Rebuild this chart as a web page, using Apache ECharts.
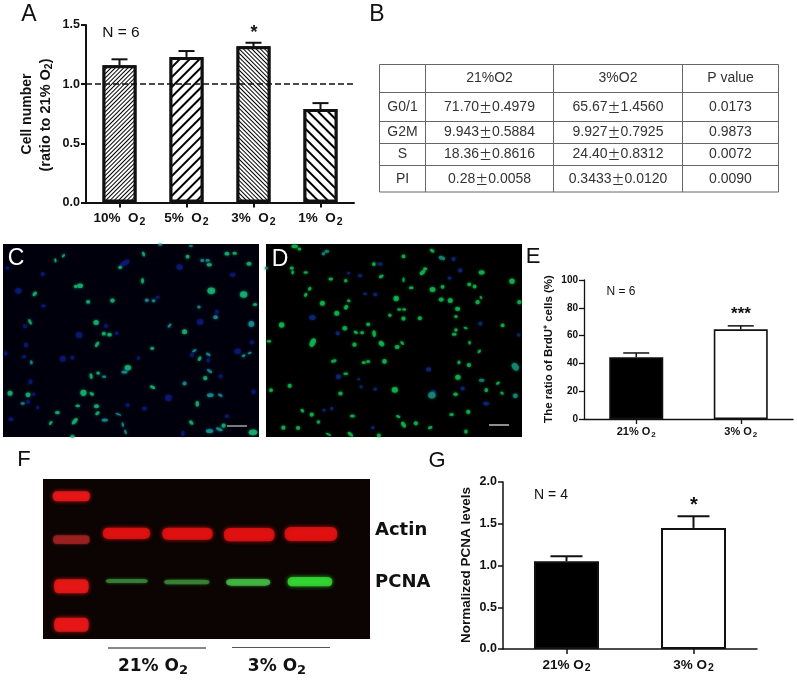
<!DOCTYPE html>
<html>
<head>
<meta charset="utf-8">
<title>O2 panels</title>
<script src="https://cdn.jsdelivr.net/npm/echarts@6/dist/echarts.min.js"></script>
<style>
  html, body { margin: 0; padding: 0; background: #fff; }
  #main { width: 797px; height: 680px; }
</style>
</head>
<body>
<div id="main"></div>
<script>
// panel A
var aCategories = ['10%  O2', '5%  O2', '3%  O2', '1%  O2'];
var aMeans = [1.16, 1.23, 1.32, 0.79];
var aTops = [1.21, 1.28, 1.35, 0.84];
var aTicks = [0, 0.5, 1.0, 1.5];

// panel B table
var tableHead = ['', '21%O2', '3%O2', 'P value'];
var tablePhases = ['G0/1', 'G2M', 'S', 'PI'];
var table21 = ['71.70±0.4979', '9.943±0.5884', '18.36±0.8616', '0.28±0.0058'];
var table3 = ['65.67±1.4560', '9.927±0.7925', '24.40±0.8312', '0.3433±0.0120'];
var tableP = ['0.0173', '0.9873', '0.0072', '0.0090'];

// panel E
var eCategories = ['21% O2', '3% O2'];
var eMeans = [44.5, 64.5];
var eTops = [47.5, 67];

// panel G
var gCategories = ['21% O2', '3% O2'];
var gMeans = [1.05, 1.45];
var gTops = [1.11, 1.59];

// micrograph nuclei: x, y, w, h, rotation (3x crop units)
var cGreen = [[166,77,9,4,80],[190,63,9,4,-50],[430,58,11,5,70],[360,98,8,7],[240,153,13,10],[227,155,8,7],[104,177,12,7,-45],
  [264,201,9,8],[337,197,10,9],[427,138,13,6,90],[90,261,14,5,60],[288,263,12,11],[311,296,9,8],[328,299,10,8],[291,328,14,6,-60],
  [456,340,8,7],[553,290,11,11],[383,398,15,12],[273,423,13,6,80],[294,414,8,7],[457,456,13,6,25],[30,474,11,11],[84,479,11,10],
  [250,473,14,14],[275,476,11,6,30],[172,532,11,7],[233,512,10,5],[289,513,11,8],[292,534,11,6,-40],[152,563,10,5,-50],[224,558,18,8,-50],
  [217,603,9,6],[598,371,11,6,-60],[615,429,9,9],[670,571,9,9],[573,562,11,7,45],[591,506,13,7,90],[562,66,8,8],[627,90,12,7],
  [680,57,11,8],[703,56,10,6],[746,87,11,8],[633,168,18,15],[730,179,17,15],[764,209,9,6],[758,591,20,13]];
var cTeal = [[606,77,8,7],[622,77,9,5],[440,196,8,7],[460,198,8,6],[596,216,7,6],[373,411,14,6],[312,425,9,5],[94,382,9,5,80],
  [68,505,9,5],[314,554,14,6],[355,537,14,3,20],[368,568,11,4,80],[376,590,11,4,70],[508,272,11,4,-45],[582,347,11,4,-30],
  [624,358,11,5,30],[628,408,14,5,35],[630,480,15,8],[660,480,11,5,30],[657,582,16,6,20],[628,587,17,9],[553,445,8,8],
  [730,362,9,5,-25],[748,354,9,4,-20],[753,267,13,13],[646,247,10,8],[480,30,9,4],[572,34,9,4]];
var cBlue = [[22,100,9,6],[55,168,15,13],[128,118,9,9],[130,213,11,7],[75,274,9,9],[78,330,9,11],[17,355,7,9],[72,365,9,7],
  [188,371,13,13],[217,368,9,9],[237,300,15,13],[318,273,9,9],[350,295,9,7],[415,369,7,9],[91,440,9,11],[84,500,9,9],[113,517,7,7],
  [33,552,11,9],[101,477,7,7],[374,85,24,11,-30],[472,188,9,7],[538,97,15,13],[697,120,13,9],[650,231,9,9],[600,261,15,13],
  [712,349,15,13],[755,322,9,9],[624,376,9,9],[575,360,9,9],[661,424,9,9],[505,488,15,15],[433,520,11,9],[382,510,9,9],
  [760,470,9,11],[680,543,9,9],[548,595,7,13]];

var dGreen = [[118,43,8,6],[104,35,15,8],[95,100,9,7],[98,113,5,9],[137,113,10,5],[212,133,10,6],[149,162,9,6,-50],[137,180,9,6,-60],
  [187,205,11,11],[258,217,11,8,-50],[266,198,7,6],[230,235,11,11],[363,125,11,6,-30],[257,138,7,7],[430,65,8,8],[341,88,8,8],
  [430,135,11,4,90],[453,159,10,6],[408,191,12,12],[417,224,9,5],[432,224,9,5],[389,241,7,7],[430,251,9,9],[479,250,9,9],
  [487,113,15,8,-40],[495,102,9,6],[517,164,13,11],[547,156,8,8],[543,194,11,9],[570,197,11,11],[592,222,11,9],[587,245,7,7],
  [627,149,8,8],[643,155,8,8],[664,113,13,9],[755,139,12,12],[516,48,11,6,30],[65,270,12,12],[27,319,10,5],[158,323,21,12,-65],
  [254,280,10,10],[287,292,10,6,30],[306,293,8,7],[324,268,8,8],[342,296,15,7,85],[283,329,9,9],[364,326,14,10,45],[411,336,11,9],
  [426,324,10,5,45],[221,378,13,6,-15],[311,382,9,6],[324,379,9,6],[373,379,10,10],[257,416,11,5],[89,452,9,9],[33,465,8,8],
  [241,475,9,9],[404,464,14,13],[127,526,9,6,45],[155,538,9,9],[175,560,7,7],[70,577,9,9],[114,578,9,8],[277,542,11,6],[414,544,10,5,20],
  [430,568,15,8,55],[467,564,9,9],[510,577,10,6,-20],[205,597,13,3,25],[271,597,15,6,40],[356,600,8,8],[574,538,10,6],[624,530,9,9],
  [617,589,7,9],[586,477,10,7],[678,465,7,9],[725,474,8,5,30],[713,444,9,5,-30],[593,426,12,11],[626,390,9,9],[596,382,6,8],
  [628,323,5,8],[657,349,9,5,-50],[616,279,9,4,20],[587,285,7,7],[582,298,11,6],[727,271,8,8],[662,188,7,4,50],[652,202,9,9],[777,202,9,9]];
var dTeal = [[545,70,15,8,20],[515,480,17,15],[664,435,13,6],[765,395,19,14,50],[765,482,11,10],[200,50,11,7],[190,57,7,7],[19,100,7,7]];
var dBlue = [[360,88,11,7],[265,115,7,5],[519,471,11,9],[678,505,13,8],[296,432,5,5],[235,425,11,11],[157,248,15,11],[233,295,9,9],
  [303,455,7,7],[345,462,7,7],[192,525,7,5],[215,520,7,7],[338,577,7,7],[580,73,9,9],[600,107,9,9],[568,130,9,7],[300,123,9,7],
  [660,266,9,9],[315,177,9,5],[345,179,9,7],[505,403,11,9],[607,460,9,9],[775,300,7,7]];

// gel bands: x, y, w, h (3x crop units)
var markerBands = [[215,155,112,30],[215,425,104,42],[215,540,104,42]];
var markerFaint = [[215,285,110,26]];
var actinBands = [[380,266,142,34],[563,267,152,36],[748,270,152,40],[933,268,158,42]];
var pcnaDim = [[381,409,126,12],[561,412,136,14]];
var pcnaMid = [[745,413,132,20]];
var pcnaBright = [[930,411,134,28]];

var chart = echarts.init(document.getElementById('main'));

var sans = '"Liberation Sans", Arial, sans-serif';
var wide = '"DejaVu Sans", sans-serif';
var ink = '#111';
var bandPath = 'path://M12,0 H88 Q100,0 100,50 Q100,100 88,100 H12 Q0,100 0,50 Q0,0 12,0Z';

function subLabel(size) {
  return {
    formatter: function (v) {
      return '{a|' + v.slice(0, -1) + '}{s|2}';
    },
    rich: {
      a: { fontFamily: sans, fontWeight: 'bold', fontSize: size, color: ink },
      s: { fontFamily: sans, fontWeight: 'bold', fontSize: size - 3, color: ink, padding: [7, 0, 0, 1] }
    }
  };
}

function catAxis(idx, cats, size, lw, margin) {
  var label = subLabel(size);
  return {
    type: 'category', gridIndex: idx, data: cats,
    axisLine: { lineStyle: { color: ink, width: lw } },
    axisTick: { show: true, alignWithLabel: true, length: 5, lineStyle: { color: ink, width: lw } },
    axisLabel: { interval: 0, margin: margin, formatter: label.formatter, rich: label.rich },
    splitLine: { show: false }
  };
}

function valAxis(idx, max, step, size, lw, digits) {
  return {
    type: 'value', gridIndex: idx, min: 0, max: max, interval: step,
    axisLine: { show: true, lineStyle: { color: ink, width: lw } },
    axisTick: { show: true, length: 5, lineStyle: { color: ink, width: lw } },
    axisLabel: {
      margin: 6, color: ink, fontFamily: sans, fontWeight: 'bold', fontSize: size,
      formatter: function (v) { return v.toFixed(digits); }
    },
    splitLine: { show: false }
  };
}

// only the upper whisker is drawn, same as the figure
function errorBars(xi, yi, means, tops, cap, lw) {
  return {
    type: 'custom', xAxisIndex: xi, yAxisIndex: yi, z: 1, silent: true,
    data: means.map(function (m, i) { return [i, m, tops[i]]; }),
    renderItem: function (params, api) {
      var a = api.coord([api.value(0), api.value(1)]);
      var b = api.coord([api.value(0), api.value(2)]);
      var st = { stroke: ink, lineWidth: lw, fill: null };
      return {
        type: 'group',
        children: [
          { type: 'line', shape: { x1: a[0], y1: a[1], x2: b[0], y2: b[1] }, style: st },
          { type: 'line', shape: { x1: b[0] - cap, y1: b[1], x2: b[0] + cap, y2: b[1] }, style: st }
        ]
      };
    }
  };
}

function hatch(gap, lw, rot) {
  return {
    symbol: 'rect', symbolSize: 1, color: '#000', backgroundColor: '#fff',
    dashArrayX: [1, 0], dashArrayY: [lw, gap], rotation: rot
  };
}

// nuclei on a crop-coordinate grid, a little fatter than read because the photo is soft
function nuclei(idx, data, color) {
  return {
    type: 'scatter', xAxisIndex: idx, yAxisIndex: idx, data: data, silent: true,
    symbol: 'circle',
    symbolSize: function (v) { return [v[2] / 3 * 1.2 + 0.6, v[3] / 3 * 1.2 + 0.6]; },
    symbolRotate: function (v) { return v[4] ? -v[4] : 0; },
    itemStyle: { color: color, shadowBlur: 3, shadowColor: color }
  };
}

function bands(idx, data, color, blur) {
  return {
    type: 'scatter', xAxisIndex: idx, yAxisIndex: idx, data: data, silent: true,
    symbol: bandPath, symbolKeepAspect: false,
    symbolSize: function (v) { return [v[2] / 3, v[3] / 3]; },
    itemStyle: { color: color, shadowBlur: blur, shadowColor: color }
  };
}

function cropAxes(idx, x0, x1, y0, y1) {
  return {
    x: { type: 'value', gridIndex: idx, min: x0, max: x1, show: false },
    y: { type: 'value', gridIndex: idx, min: y0, max: y1, inverse: true, show: false }
  };
}

var cropC = cropAxes(3, 9, 776, 28, 605);
var cropD = cropAxes(4, 18, 785, 28, 605);
var cropF = cropAxes(5, 130, 1110, 103, 583);

var grids = [
  { left: 86, top: 25, width: 268, height: 177.5 },
  { left: 584, top: 280, width: 209, height: 139 },
  { left: 503, top: 482, width: 254, height: 167 },
  { left: 3, top: 244, width: 256, height: 193, show: true, borderWidth: 0, backgroundColor: '#00000c' },
  { left: 266, top: 244, width: 256, height: 193, show: true, borderWidth: 0, backgroundColor: '#000' },
  { left: 43, top: 479, width: 327, height: 160, show: true, borderWidth: 0, backgroundColor: '#0b0402' }
];

var series = [
  {
    type: 'bar', xAxisIndex: 0, yAxisIndex: 0, barWidth: 34, z: 2, silent: true,
    data: [
      { value: aMeans[0], itemStyle: { decal: hatch(1.5, 1, -Math.PI / 4) } },
      { value: aMeans[1], itemStyle: { decal: hatch(4.4, 1.6, -Math.PI / 4) } },
      { value: aMeans[2], itemStyle: { decal: hatch(1.5, 1, Math.PI / 4) } },
      { value: aMeans[3], itemStyle: { decal: hatch(4.4, 1.6, Math.PI / 4) } }
    ],
    itemStyle: { color: '#fff', borderColor: ink, borderWidth: 3 },
    markLine: {
      silent: true, symbol: 'none', animation: false, label: { show: false },
      lineStyle: { color: ink, type: [6, 3], width: 1.6 },
      data: [{ yAxis: 1 }]
    }
  },
  errorBars(0, 0, aMeans, aTops, 8, 2),
  {
    type: 'bar', xAxisIndex: 1, yAxisIndex: 1, barWidth: 54, z: 2, silent: true,
    data: [
      { value: eMeans[0], itemStyle: { color: '#000' } },
      { value: eMeans[1], itemStyle: { color: '#fff' } }
    ],
    itemStyle: { borderColor: ink, borderWidth: 1.6 }
  },
  errorBars(1, 1, eMeans, eTops, 13, 1.5),
  {
    type: 'bar', xAxisIndex: 2, yAxisIndex: 2, barWidth: 65, z: 2, silent: true,
    data: [
      { value: gMeans[0], itemStyle: { color: '#000' } },
      { value: gMeans[1], itemStyle: { color: '#fff' } }
    ],
    itemStyle: { borderColor: ink, borderWidth: 2 }
  },
  errorBars(2, 2, gMeans, gTops, 16, 2),
  nuclei(3, cBlue, '#0a1a78'),
  nuclei(3, cTeal, '#17939c'),
  nuclei(3, cGreen, '#16b877'),
  nuclei(4, dBlue, '#0a2a80'),
  nuclei(4, dTeal, '#148f78'),
  nuclei(4, dGreen, '#12bd52'),
  bands(5, markerBands, '#f01818', 4),
  bands(5, markerFaint, '#a02222', 3),
  bands(5, actinBands, '#e81212', 4),
  bands(5, pcnaDim, '#3a8a3a', 3),
  bands(5, pcnaMid, '#44bd44', 3),
  bands(5, pcnaBright, '#34e034', 4)
];

var gfx = [];

function label(text, x, y, size, opts) {
  opts = opts || {};
  gfx.push({
    type: 'text', x: x, y: y, rotation: opts.rot || 0, z: 50, silent: true,
    style: {
      text: text, fontFamily: opts.font || sans, fontSize: size, fontWeight: opts.weight || 'normal',
      fill: opts.color || ink, align: opts.align || 'center', verticalAlign: 'middle',
      rich: opts.rich
    }
  });
}

function rule(x1, y1, x2, y2, color, lw) {
  gfx.push({
    type: 'line', z: 50, silent: true,
    shape: { x1: x1, y1: y1, x2: x2, y2: y2 },
    style: { stroke: color, lineWidth: lw }
  });
}

// panel letters
label('A', 29, 15, 23);
label('B', 377, 15, 23);
label('C', 16, 259, 23, { color: '#fff' });
label('D', 280, 260, 23, { color: '#fff' });
label('E', 533, 257, 22);
label('F', 24, 460, 22);
label('G', 437, 461, 22);

// y titles, rotated
var vert = Math.PI / 2;
function richSub(size, font) {
  return {
    t: { fontFamily: font || sans, fontWeight: 'bold', fontSize: size, fill: ink },
    u: { fontFamily: font || sans, fontWeight: 'bold', fontSize: size - 4, fill: ink, padding: [7, 0, 0, 0] }
  };
}
label('Cell number', 27, 114, 14, { rot: vert, weight: 'bold' });
label('{t|(ratio to 21% O}{u|2}{t|)}', 46, 115, 14.5, { rot: vert, rich: richSub(14.5) });
label('The ratio of BrdU⁺ cells (%)', 549, 349, 11.5, { rot: vert, weight: 'bold' });
label('Normalized PCNA levels', 466, 565, 13.5, { rot: vert, weight: 'bold' });

// annotations
label('N = 6', 121, 33, 15.5);
label('*', 254, 33, 18, { weight: 'bold' });
label('N = 6', 621, 292, 12);
label('***', 741, 314, 17, { weight: 'bold' });
label('N = 4', 551, 495, 14);
label('*', 694, 505, 20, { weight: 'bold' });

// scale bars on the micrographs
rule(227, 426, 247, 426, '#ccc', 1.2);
rule(489, 425, 509, 425, '#eee', 1.2);

// gel labels
label('Actin', 375, 530, 18, { align: 'left', weight: 'bold', font: wide });
label('PCNA', 375, 582, 18, { align: 'left', weight: 'bold', font: wide });
rule(108, 648, 206, 648, '#111', 1);
rule(232, 647.5, 330, 647.5, '#555', 1);
label('{t|21% O}{u|2}', 153, 667, 17, { rich: richSub(17, wide) });
label('{t|3% O}{u|2}', 277, 667, 17, { rich: richSub(17, wide) });

// panel B table
var colX = [379.5, 425.5, 553.5, 682.5, 778.5];
var rowY = [64.5, 92.5, 121.5, 143.5, 165.5, 192];
var tableInk = '#333';
rowY.forEach(function (y) { rule(colX[0], y, colX[4], y, '#666', 1); });
colX.forEach(function (x) { rule(x, rowY[0], x, rowY[5], '#666', 1); });

function cell(text, c, r) {
  var txt = text.replace('±', '}{p|±}{d|');
  label('{d|' + txt + '}', (colX[c] + colX[c + 1]) / 2, (rowY[r] + rowY[r + 1]) / 2, 14, {
    rich: {
      d: { fontFamily: sans, fontSize: 14, fill: tableInk },
      p: { fontFamily: '"Noto Sans CJK SC"', fontSize: 13, fill: tableInk }
    }
  });
}
tableHead.forEach(function (h, c) { if (h) cell(h, c, 0); });
tablePhases.forEach(function (p, r) {
  cell(p, 0, r + 1);
  cell(table21[r], 1, r + 1);
  cell(table3[r], 2, r + 1);
  cell(tableP[r], 3, r + 1);
});

var option = {
  animation: false,
  backgroundColor: '#fff',
  grid: grids,
  xAxis: [
    catAxis(0, aCategories, 13.5, 2, 7),
    catAxis(1, eCategories, 11, 1.3, 5),
    catAxis(2, gCategories, 13.5, 1.5, 7),
    cropC.x, cropD.x, cropF.x
  ],
  yAxis: [
    valAxis(0, aTicks[aTicks.length - 1], 0.5, 12.5, 2, 1),
    valAxis(1, 100, 20, 10, 1.3, 0),
    valAxis(2, 2, 0.5, 12.5, 1.5, 1),
    cropC.y, cropD.y, cropF.y
  ],
  series: series,
  graphic: gfx
};

chart.setOption(option);
</script>
</body>
</html>
